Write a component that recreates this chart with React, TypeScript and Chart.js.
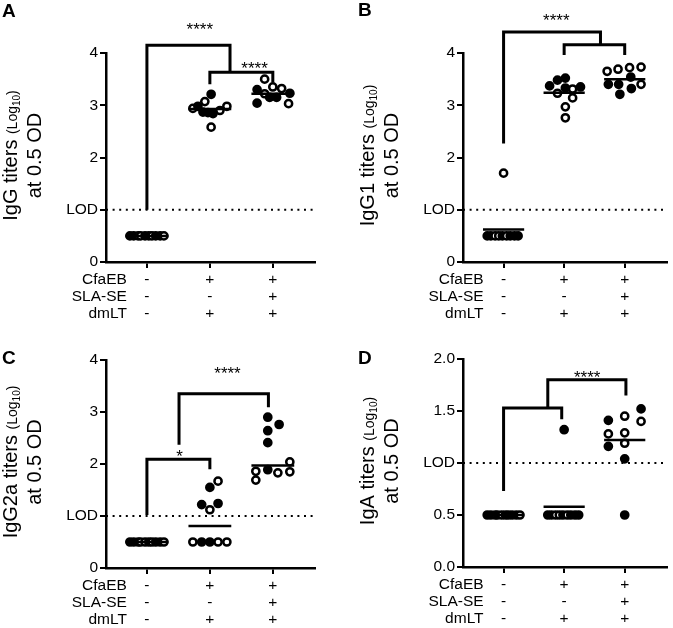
import React, { useEffect, useRef } from 'react';
import { Chart, registerables } from 'chart.js';

Chart.register(...registerables);

const FONT = '"Liberation Sans", Arial, sans-serif';

// ---------- shared axis text ----------
const rowNames = ['CfaEB', 'SLA-SE', 'dmLT'];
const cfaEBSigns = ['-', '+', '+'];
const slaSESigns = ['-', '-', '+'];
const dmLTSigns = ['-', '+', '+'];
const yTicksIg = [0, 1, 2, 3, 4];
const yTicksIgA = [0, 0.5, 1, 1.5, 2];
const lodValue = 1;
const lodLabel = 'LOD';
const yTitleUnitMain = '(Log';
const yTitleUnitSub = '10';
const yTitleUnitEnd = ')';
const yTitleLine2 = 'at 0.5 OD';

// ---------- Panel A : IgG ----------
const aTitle = 'IgG titers';
const aValues = [
  [0.5, 0.5, 0.5, 0.5, 0.5, 0.5, 0.5, 0.5, 0.5, 0.5],
  [3.21, 3.07, 2.94, 2.98, 2.87, 2.86, 2.84, 2.9, 2.98, 2.58],
  [3.5, 3.35, 3.32, 3.3, 3.23, 3.22, 3.15, 3.15, 3.04, 3.03],
];
const aJitter = [
  [-0.27, -0.21, -0.14, -0.1, -0.03, 0.03, 0.08, 0.14, 0.21, 0.27],
  [0.02, -0.08, -0.27, -0.19, -0.11, -0.03, 0.05, 0.16, 0.27, 0.02],
  [-0.13, 0, 0.14, -0.25, 0.27, -0.13, 0.06, -0.05, -0.25, 0.25],
];
const aFilled = [
  [1, 1, 0, 0, 1, 1, 0, 1, 1, 0],
  [1, 0, 0, 1, 1, 1, 1, 0, 0, 0],
  [0, 0, 0, 1, 1, 0, 1, 1, 1, 0],
];
const aMedians = [0.5, 2.93, 3.22];
const aBrackets = [
  [[0, 1.0], [0, 4.15], [1.32, 4.15], [1.32, 3.63]],
  [[1, 3.4], [1, 3.63], [2, 3.63], [2, 3.44]],
];
const aStarX = [0.84, 1.71];
const aStarY = [4.53, 3.79];
const aStarText = ['****', '****'];

// ---------- Panel B : IgG1 ----------
const bTitle = 'IgG1 titers';
const bValues = [
  [0.5, 0.5, 0.5, 0.5, 0.5, 0.5, 0.5, 0.5, 0.5, 1.7],
  [3.37, 3.48, 3.52, 3.33, 3.31, 3.35, 3.23, 3.14, 2.97, 2.76],
  [3.65, 3.69, 3.72, 3.73, 3.54, 3.4, 3.4, 3.32, 3.4, 3.21],
];
const bJitter = [
  [-0.27, -0.21, -0.14, -0.08, -0.02, 0.05, 0.11, 0.18, 0.24, 0],
  [-0.24, -0.11, 0.02, 0.02, 0.14, 0.27, -0.11, 0.14, 0.02, 0.02],
  [-0.29, -0.11, 0.08, 0.27, 0.1, -0.27, -0.1, 0.11, 0.27, -0.08],
];
const bFilled = [
  [1, 1, 0, 0, 1, 0, 1, 1, 1, 0],
  [1, 1, 1, 1, 0, 1, 0, 0, 0, 0],
  [0, 0, 0, 0, 1, 1, 1, 1, 0, 1],
];
const bMedians = [0.62, 3.24, 3.5];
const bBrackets = [
  [[0, 2.27], [0, 4.4], [1.6, 4.4], [1.6, 4.16]],
  [[1, 3.96], [1, 4.16], [2, 4.16], [2, 3.96]],
];
const bStarX = [0.87];
const bStarY = [4.71];
const bStarText = ['****'];

// ---------- Panel C : IgG2a ----------
const cTitle = 'IgG2a titers';
const cValues = [
  [0.5, 0.5, 0.5, 0.5, 0.5, 0.5, 0.5, 0.5, 0.5, 0.5],
  [1.67, 1.55, 1.22, 1.24, 1.12, 0.5, 0.5, 0.5, 0.5, 0.5],
  [2.9, 2.76, 2.64, 2.41, 2.04, 1.86, 1.89, 1.83, 1.85, 1.69],
];
const cJitter = [
  [-0.27, -0.21, -0.14, -0.1, -0.03, 0.03, 0.08, 0.14, 0.21, 0.27],
  [0.13, 0, -0.13, 0.13, 0, -0.27, -0.13, 0, 0.13, 0.27],
  [-0.08, 0.1, -0.08, -0.08, 0.27, -0.27, -0.08, 0.08, 0.27, -0.27],
];
const cFilled = [
  [1, 1, 1, 0, 0, 1, 0, 1, 1, 0],
  [0, 1, 1, 1, 0, 0, 1, 1, 0, 0],
  [1, 1, 1, 1, 0, 0, 1, 0, 0, 0],
];
const cMedians = [0.5, 0.81, 1.97];
const cBrackets = [
  [[0, 1.02], [0, 2.09], [1, 2.09], [1, 1.9]],
  [[0.51, 2.37], [0.51, 3.35], [1.93, 3.35], [1.93, 3.09]],
];
const cStarX = [0.52, 1.28];
const cStarY = [2.22, 3.82];
const cStarText = ['*', '****'];

// ---------- Panel D : IgA ----------
const dTitle = 'IgA titers';
const dValues = [
  [0.5, 0.5, 0.5, 0.5, 0.5, 0.5, 0.5, 0.5, 0.5, 0.5],
  [0.5, 0.5, 0.5, 0.5, 0.5, 0.5, 0.5, 0.5, 0.5, 1.32],
  [1.52, 1.41, 1.45, 1.4, 1.28, 1.29, 1.16, 1.19, 1.04, 0.5],
];
const dJitter = [
  [-0.27, -0.21, -0.14, -0.1, -0.03, 0.03, 0.08, 0.14, 0.21, 0.27],
  [-0.27, -0.21, -0.14, -0.08, -0.02, 0.05, 0.11, 0.18, 0.24, 0],
  [0.27, -0.27, 0, 0.27, -0.27, 0, -0.27, 0, 0, 0],
];
const dFilled = [
  [1, 1, 0, 1, 0, 1, 1, 1, 1, 0],
  [1, 1, 0, 0, 1, 0, 1, 1, 1, 1],
  [1, 1, 0, 0, 0, 0, 1, 0, 1, 1],
];
const dMedians = [0.5, 0.58, 1.22];
const dBrackets = [
  [[0, 0.73], [0, 1.53], [0.96, 1.53], [0.96, 1.42]],
  [[0.73, 1.53], [0.73, 1.8], [2.02, 1.8], [2.02, 1.65]],
];
const dStarX = [1.38];
const dStarY = [1.86];
const dStarText = ['****'];

type Box = {
  left: number; top: number; w: number; h: number;
  padTop: number; padRight: number; yW: number; xH: number;
  xMin: number; xMax: number; letterX: number; letterY: number;
};

type Spec = {
  letter: string; title: string;
  values: number[][]; jitter: number[][]; filled: number[][]; medians: number[];
  brackets: number[][][]; starX: number[]; starY: number[]; starText: string[];
  yTicks: number[]; yMax: number; decimals: number; box: Box;
};

const specs: Spec[] = [
  {
    letter: 'A', title: aTitle, values: aValues, jitter: aJitter, filled: aFilled, medians: aMedians,
    brackets: aBrackets, starX: aStarX, starY: aStarY, starText: aStarText,
    yTicks: yTicksIg, yMax: 4, decimals: 0,
    box: { left: 0, top: 0, w: 336, h: 320, padTop: 53, padRight: 21, yW: 106, xH: 58, xMin: -0.65, xMax: 2.67, letterX: 2, letterY: 17 },
  },
  {
    letter: 'B', title: bTitle, values: bValues, jitter: bJitter, filled: bFilled, medians: bMedians,
    brackets: bBrackets, starX: bStarX, starY: bStarY, starText: bStarText,
    yTicks: yTicksIg, yMax: 4, decimals: 0,
    box: { left: 336, top: 0, w: 337, h: 320, padTop: 53, padRight: 0, yW: 127, xH: 58, xMin: -0.67, xMax: 2.69, letterX: 22, letterY: 16 },
  },
  {
    letter: 'C', title: cTitle, values: cValues, jitter: cJitter, filled: cFilled, medians: cMedians,
    brackets: cBrackets, starX: cStarX, starY: cStarY, starText: cStarText,
    yTicks: yTicksIg, yMax: 4, decimals: 0,
    box: { left: 0, top: 320, w: 336, h: 308, padTop: 40, padRight: 21, yW: 106, xH: 60, xMin: -0.65, xMax: 2.67, letterX: 2, letterY: 44 },
  },
  {
    letter: 'D', title: dTitle, values: dValues, jitter: dJitter, filled: dFilled, medians: dMedians,
    brackets: dBrackets, starX: dStarX, starY: dStarY, starText: dStarText,
    yTicks: yTicksIgA, yMax: 2, decimals: 1,
    box: { left: 336, top: 320, w: 337, h: 308, padTop: 39, padRight: 0, yW: 127, xH: 61, xMin: -0.67, xMax: 2.69, letterX: 22, letterY: 44 },
  },
];

function Panel({ spec }: { spec: Spec }) {
  const ref = useRef<HTMLCanvasElement>(null);
  useEffect(() => {
    const canvas = ref.current!;
    const b = spec.box;
    const datasets: any[] = [];
    datasets.push({
      data: [{ x: b.xMin, y: lodValue }, { x: b.xMax, y: lodValue }],
      showLine: true, borderColor: '#000', borderWidth: 2, borderDash: [2, 4.6],
      pointRadius: 0, borderCapStyle: 'butt',
    });
    spec.brackets.forEach((br) => {
      datasets.push({
        data: br.map(([x, y]) => ({ x, y })),
        showLine: true, borderColor: '#000', borderWidth: 3, pointRadius: 0,
        clip: false, borderJoinStyle: 'miter', borderCapStyle: 'butt', tension: 0,
      });
    });
    spec.medians.forEach((m, g) => {
      datasets.push({
        data: [{ x: g - 0.34, y: m }, { x: g + 0.34, y: m }],
        showLine: true, borderColor: '#000', borderWidth: 2.5, pointRadius: 0, borderCapStyle: 'butt',
      });
    });
    const pts: { x: number; y: number }[] = [];
    const bg: string[] = [];
    spec.values.forEach((vals, g) =>
      vals.forEach((v, i) => {
        pts.push({ x: g + spec.jitter[g][i], y: v });
        bg.push(spec.filled[g][i] ? '#000' : '#fff');
      })
    );
    datasets.push({
      data: pts, showLine: false, pointRadius: 3.6, pointBorderWidth: 2.5,
      pointBackgroundColor: bg, pointBorderColor: '#000', clip: false,
    });

    const textPlugin = {
      id: 'panelText' + spec.letter,
      afterDraw(chart: any) {
        const ctx = chart.ctx as CanvasRenderingContext2D;
        const area = chart.chartArea;
        const xs = chart.scales.x;
        const ys = chart.scales.y;
        ctx.save();
        ctx.fillStyle = '#000';
        // panel letter
        ctx.font = `bold 19px ${FONT}`;
        ctx.textAlign = 'left';
        ctx.textBaseline = 'alphabetic';
        ctx.fillText(spec.letter, b.letterX, b.letterY);
        // row names
        ctx.font = `15.5px ${FONT}`;
        ctx.textAlign = 'right';
        ctx.textBaseline = 'middle';
        const rx = xs.getPixelForValue(0) - 20;
        rowNames.forEach((n, i) => ctx.fillText(n, rx, xs.top + 6 + 3.5 + 17 * (i + 0.5)));
        // stars
        ctx.font = `17px ${FONT}`;
        ctx.textAlign = 'center';
        ctx.textBaseline = 'alphabetic';
        spec.starText.forEach((t, i) =>
          ctx.fillText(t, xs.getPixelForValue(spec.starX[i]), ys.getPixelForValue(spec.starY[i]) + 9.8)
        );
        // y title
        const cy = (area.top + area.bottom) / 2 - 2;
        const segs = [
          { t: spec.title + ' ', s: 20, dy: 0 },
          { t: yTitleUnitMain, s: 14, dy: 0 },
          { t: yTitleUnitSub, s: 10, dy: 3 },
          { t: yTitleUnitEnd, s: 14, dy: 0 },
        ];
        let total = 0;
        const widths = segs.map((sg) => {
          ctx.font = `${sg.s}px ${FONT}`;
          const w = ctx.measureText(sg.t).width;
          total += w;
          return w;
        });
        ctx.textAlign = 'left';
        ctx.save();
        ctx.translate(area.left - 89, cy);
        ctx.rotate(-Math.PI / 2);
        let px = -total / 2;
        segs.forEach((sg, i) => {
          ctx.font = `${sg.s}px ${FONT}`;
          ctx.fillText(sg.t, px, sg.dy);
          px += widths[i];
        });
        ctx.restore();
        ctx.save();
        ctx.translate(area.left - 65, cy);
        ctx.rotate(-Math.PI / 2);
        ctx.font = `20px ${FONT}`;
        ctx.textAlign = 'center';
        ctx.fillText(yTitleLine2, 0, 0);
        ctx.restore();
        ctx.restore();
      },
    };

    const tickFont = { family: FONT, size: 15.5, lineHeight: '17px' };
    const chart = new Chart(canvas, {
      type: 'scatter',
      data: { datasets },
      plugins: [textPlugin],
      options: {
        animation: false,
        responsive: false,
        maintainAspectRatio: false,
        events: [],
        layout: { padding: { top: b.padTop, right: b.padRight, bottom: 0, left: 0 } },
        plugins: { legend: { display: false }, tooltip: { enabled: false } },
        scales: {
          x: {
            type: 'linear',
            min: b.xMin,
            max: b.xMax,
            afterFit: (s: any) => { s.height = b.xH; },
            afterBuildTicks: (s: any) => { s.ticks = [0, 1, 2].map((v) => ({ value: v })); },
            ticks: {
              callback: (_v: any, i: number) => [cfaEBSigns[i], slaSESigns[i], dmLTSigns[i]],
              font: tickFont, color: '#000', padding: 3.5, autoSkip: false, maxRotation: 0, minRotation: 0,
            },
            grid: { drawOnChartArea: false, drawTicks: true, tickLength: 6, lineWidth: 2, color: '#000', tickColor: '#000' },
            border: { display: true, width: 2.5, color: '#000' },
          },
          y: {
            type: 'linear',
            min: 0,
            max: spec.yMax,
            afterFit: (s: any) => { s.width = b.yW; },
            afterBuildTicks: (s: any) => { s.ticks = spec.yTicks.map((v) => ({ value: v })); },
            ticks: {
              callback: (v: any) => (v === lodValue ? lodLabel : Number(v).toFixed(spec.decimals)),
              font: tickFont, color: '#000', padding: 2,
            },
            grid: { drawOnChartArea: false, drawTicks: true, tickLength: 6, lineWidth: 2, color: '#000', tickColor: '#000' },
            border: { display: true, width: 2.5, color: '#000' },
          },
        },
      } as any,
    });
    return () => chart.destroy();
  }, [spec]);
  const b = spec.box;
  return (
    <canvas
      ref={ref}
      width={b.w}
      height={b.h}
      style={{ position: 'absolute', left: b.left, top: b.top, width: b.w, height: b.h }}
    />
  );
}

export default function App() {
  return (
    <div style={{ position: 'absolute', left: 0, top: 0, width: 673, height: 628, background: '#fff', overflow: 'hidden' }}>
      {specs.map((s) => (
        <Panel key={s.letter} spec={s} />
      ))}
    </div>
  );
}
